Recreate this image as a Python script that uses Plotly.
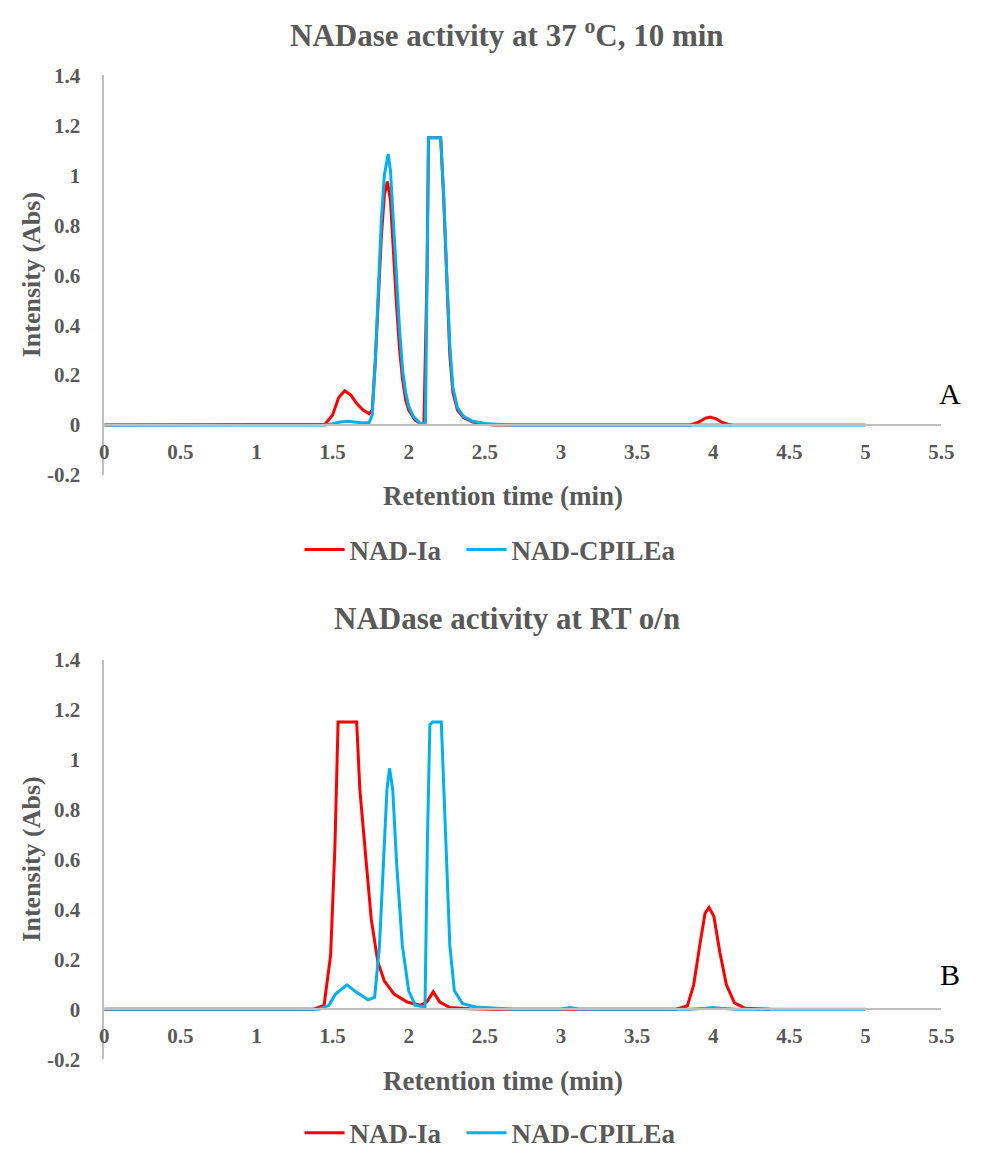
import plotly.graph_objects as go

# ---------------- Data ----------------
# Panel A: NADase activity at 37 oC, 10 min
a_red_t = [0, 1.40, 1.45, 1.50, 1.54, 1.58, 1.62, 1.66, 1.70, 1.74, 1.76, 1.78, 1.80, 1.82, 1.84, 1.86,
           1.88, 1.90, 1.92, 1.94, 1.96, 1.98, 2.00, 2.04, 2.08, 2.10, 2.12, 2.13, 2.21, 2.23, 2.25,
           2.27, 2.29, 2.32, 2.36, 2.42, 2.50, 2.56, 3.85, 3.90, 3.95, 3.98, 4.02, 4.06, 4.10, 4.12]
a_red_y = [0, 0, 0.003, 0.04, 0.11, 0.137, 0.12, 0.085, 0.06, 0.045, 0.06, 0.25, 0.50, 0.75, 0.92, 0.975,
           0.90, 0.68, 0.48, 0.30, 0.18, 0.10, 0.06, 0.02, 0.005, 0.01, 0.60, 1.15, 1.15, 0.90, 0.55,
           0.28, 0.13, 0.06, 0.03, 0.012, 0.004, 0, 0, 0.01, 0.028, 0.032, 0.025, 0.01, 0.002, 0]

a_blue_t = [0, 1.45, 1.50, 1.55, 1.60, 1.65, 1.70, 1.74, 1.76, 1.78, 1.80, 1.82, 1.84, 1.865, 1.88,
            1.90, 1.92, 1.94, 1.96, 1.98, 2.00, 2.03, 2.07, 2.09, 2.11, 2.12, 2.13, 2.21, 2.23, 2.25,
            2.27, 2.29, 2.32, 2.36, 2.42, 2.50, 2.58, 2.65, 5.0]
a_blue_y = [0, 0, 0.005, 0.012, 0.015, 0.01, 0.008, 0.01, 0.04, 0.25, 0.55, 0.82, 1.0, 1.085, 1.02,
            0.80, 0.58, 0.38, 0.22, 0.13, 0.075, 0.035, 0.01, 0.005, 0.01, 0.60, 1.15, 1.15, 0.92, 0.60,
            0.32, 0.15, 0.07, 0.035, 0.015, 0.006, 0.002, 0, 0]

# Panel B: NADase activity at RT o/n
b_red_t = [0, 1.37, 1.444, 1.487, 1.515, 1.536, 1.658, 1.679, 1.722, 1.754, 1.797, 1.84, 1.904, 1.99,
           2.075, 2.118, 2.161, 2.204, 2.27, 2.40, 2.55, 3.755, 3.83, 3.872, 3.915, 3.947, 3.973,
           4.005, 4.044, 4.087, 4.14, 4.21, 4.375]
b_red_y = [0, 0, 0.016, 0.217, 0.647, 1.15, 1.15, 0.88, 0.58, 0.36, 0.19, 0.113, 0.061, 0.029,
           0.016, 0.029, 0.07, 0.029, 0.007, 0.002, 0, 0, 0.013, 0.098, 0.268, 0.385, 0.408,
           0.371, 0.228, 0.098, 0.026, 0.004, 0]

b_blue_t = [0, 1.41, 1.476, 1.519, 1.594, 1.658, 1.733, 1.776, 1.808, 1.836, 1.857, 1.874, 1.895,
            1.921, 1.958, 2.0, 2.043, 2.107, 2.122, 2.139, 2.156, 2.214, 2.236, 2.27, 2.30, 2.354,
            2.44, 2.61, 2.70, 3.00, 3.06, 3.12, 3.85, 3.95, 4.00, 4.05, 4.15, 5.0]
b_blue_y = [0, 0, 0.016, 0.061, 0.098, 0.068, 0.038, 0.048, 0.256, 0.647, 0.88, 0.965, 0.88,
            0.58, 0.256, 0.074, 0.016, 0.009, 0.647, 1.14, 1.15, 1.15, 0.777, 0.256, 0.074, 0.022,
            0.009, 0.003, 0, 0, 0.007, 0, 0, 0.004, 0.007, 0.004, 0, 0]

series_names = ["NAD-Ia", "NAD-CPILEa"]
panel_titles = ["NADase activity at 37 <sup>o</sup>C, 10 min", "NADase activity at RT o/n"]
panel_letters = ["A", "B"]
x_ticks = [0, 0.5, 1, 1.5, 2, 2.5, 3, 3.5, 4, 4.5, 5, 5.5]
x_ticklabels = ["0", "0.5", "1", "1.5", "2", "2.5", "3", "3.5", "4", "4.5", "5", "5.5"]
y_ticks = [-0.2, 0, 0.2, 0.4, 0.6, 0.8, 1, 1.2, 1.4]
y_ticklabels = ["-0.2", "0", "0.2", "0.4", "0.6", "0.8", "1", "1.2", "1.4"]

# ---------------- Styling ----------------
PAGE_W, PAGE_H = 989, 1166
BODY = 8                        # default page margin around the plot div
W, H = PAGE_W - 2 * BODY, PAGE_H - 2 * BODY
RED = "#FF0000"
BLUE = "#00B0F0"
GREY_TXT = "#595959"
AXIS = "#BFBFBF"
SERIF = "Liberation Serif"

def fy(py):   # page pixel -> paper fraction
    return 1 - (py - BODY) / H

def fx(px):
    return (px - BODY) / W

x_dom = [fx(101), fx(954)]
panels = [
    dict(top=65, bottom=476, legend_y=553, letter_y=392, ytitle_y=270, xtitle_y=498),
    dict(top=666, bottom=1077, legend_y=1153, letter_y=990, ytitle_y=871, xtitle_y=1099),
]
legend_left = [300, 465]   # left edge of each legend entry (page px)
colors = [RED, BLUE]

fig = go.Figure()
data = [((a_red_t, a_red_y), (a_blue_t, a_blue_y)), ((b_red_t, b_red_y), (b_blue_t, b_blue_y))]
legend_keys = [["legend", "legend3"], ["legend2", "legend4"]]
for i, series in enumerate(data):
    xa = "x" if i == 0 else "x2"
    ya = "y" if i == 0 else "y2"
    for j, (t, y) in enumerate(series):
        fig.add_trace(go.Scatter(x=t, y=y, mode="lines", name=series_names[j],
                                 line=dict(color=colors[j], width=3), xaxis=xa, yaxis=ya,
                                 legend=legend_keys[i][j]))

tickfont = dict(family=SERIF, size=21, color=GREY_TXT, weight="bold")
layout = dict(width=W, height=H, margin=dict(l=0, r=0, t=0, b=0),
              paper_bgcolor="white", plot_bgcolor="white", showlegend=True)
annotations = []
for i, p in enumerate(panels):
    dom = [fy(p["bottom"]), fy(p["top"])]
    pos = dom[0] + (0 - (-0.2)) / 1.6 * (dom[1] - dom[0])
    xk = "xaxis" if i == 0 else "xaxis2"
    yk = "yaxis" if i == 0 else "yaxis2"
    xa = "x" if i == 0 else "x2"
    layout[xk] = dict(domain=x_dom, range=[0, 5.5], anchor="free", position=pos,
                      tickmode="array", tickvals=x_ticks, ticktext=x_ticklabels,
                      showline=True, linecolor=AXIS, linewidth=1.5, showgrid=False,
                      zeroline=False, ticks="outside", ticklen=8, tickcolor="rgba(0,0,0,0)",
                      tickfont=tickfont)
    layout[yk] = dict(domain=dom, range=[-0.2, 1.4], anchor=xa,
                      tickmode="array", tickvals=y_ticks, ticktext=y_ticklabels,
                      showline=True, linecolor=AXIS, linewidth=1.5, showgrid=False,
                      zeroline=False, ticks="outside", ticklen=18, tickcolor="rgba(0,0,0,0)",
                      tickfont=tickfont)
    for j in range(2):
        layout[legend_keys[i][j]] = dict(
            orientation="h", x=fx(legend_left[j]), xanchor="left", y=fy(p["legend_y"]),
            yanchor="middle", font=dict(family=SERIF, size=27, color=GREY_TXT, weight="bold"),
            bgcolor="rgba(0,0,0,0)", itemwidth=40)
    if i == 0:
        annotations.append(dict(text=panel_titles[i], x=fx(511), y=fy(44),
                                xref="paper", yref="paper", showarrow=False, xanchor="center",
                                yanchor="bottom",
                                font=dict(family=SERIF, size=31, color=GREY_TXT, weight="bold")))
    else:
        annotations.append(dict(text=panel_titles[i], x=fx(511), y=fy(624),
                                xref="paper", yref="paper", showarrow=False, xanchor="center",
                                yanchor="middle",
                                font=dict(family=SERIF, size=31, color=GREY_TXT, weight="bold")))
    annotations.append(dict(text=panel_letters[i], x=fx(963), y=fy(p["letter_y"]),
                            xref="paper", yref="paper", showarrow=False, xanchor="center",
                            yanchor="middle", font=dict(family=SERIF, size=30, color="black")))
    annotations.append(dict(text="Intensity (Abs)", x=fx(27), y=fy(p["ytitle_y"]),
                            xref="paper", yref="paper", showarrow=False, textangle=-90,
                            xanchor="center", yanchor="middle",
                            font=dict(family=SERIF, size=26, color=GREY_TXT, weight="bold")))
    annotations.append(dict(text="Retention time (min)", x=fx(507),
                            y=fy(p["xtitle_y"]), xref="paper", yref="paper", showarrow=False,
                            xanchor="center", yanchor="middle",
                            font=dict(family=SERIF, size=27, color=GREY_TXT, weight="bold")))
layout["annotations"] = annotations
fig.update_layout(**layout)

fig.write_html("out.html")
